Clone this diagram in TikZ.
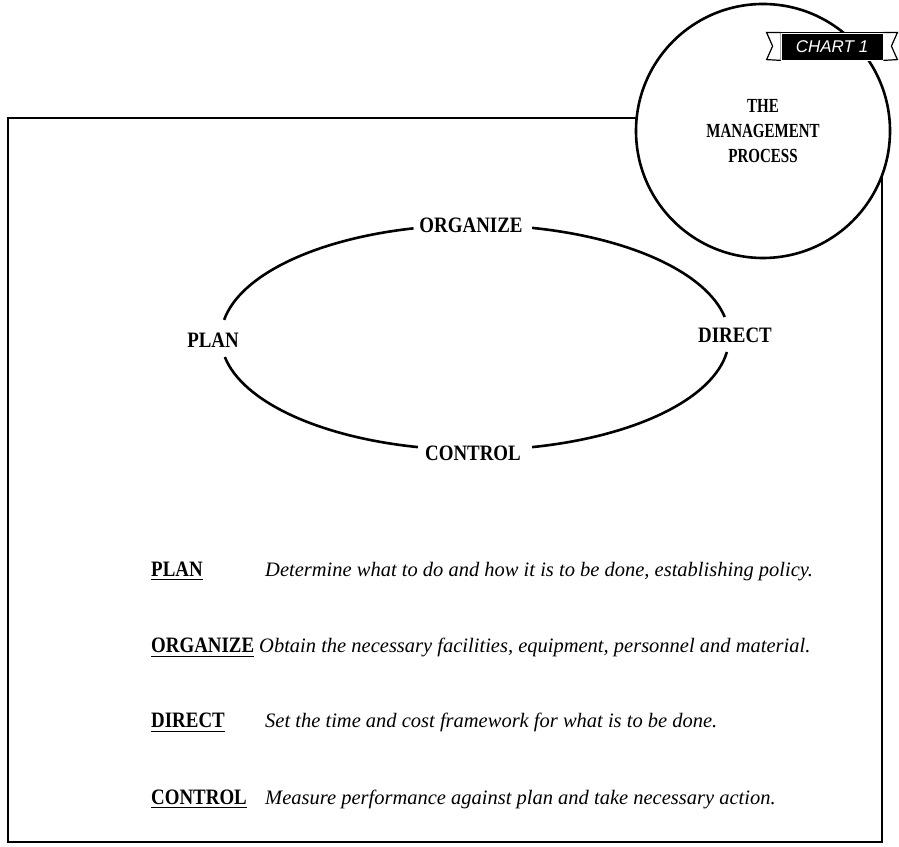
\documentclass[tikz,border=0pt]{standalone}
\usepackage{graphicx}
\usepackage{fontspec}
\setmainfont{Liberation Serif}
\newfontfamily\badgefont{Liberation Sans}
\newcommand\narrow[2][0.86]{\scalebox{#1}[1]{#2}}

\begin{document}
\begin{tikzpicture}[x=1pt, y=1pt,
    frame/.style={draw=black, line width=1.8pt},
    cycleline/.style={line width=2.6pt},
    stage/.style={font=\fontsize{22}{24}\selectfont\bfseries, inner sep=1pt},
    term/.style={font=\fontsize{22}{24}\selectfont\bfseries, inner sep=0pt, anchor=base west},
    gloss/.style={font=\fontsize{20.5}{24}\selectfont\itshape, inner sep=0pt, anchor=base west},
    ulrule/.style={line width=1.4pt}]

  \useasboundingbox (0,0) rectangle (899,846);

  % outer frame
  \draw[frame] (8,4) rectangle (882,728);

  % title circle
  \node[circle, draw, fill=white, line width=2.6pt, minimum size=254pt, align=center,
        font=\fontsize{20}{25}\selectfont\bfseries] (title) at (763,715)
        {\narrow[0.75]{THE}\\\narrow[0.75]{MANAGEMENT}\\\narrow[0.75]{PROCESS}};

  % chart badge
  \node[fill=black, draw=black, double=white, double distance=0.8pt, line width=0.8pt,
        text=white, minimum width=102pt, minimum height=27pt, inner sep=0pt,
        font=\badgefont\itshape\fontsize{17}{17}\selectfont] (badge) at (832,799.5) {CHART 1};
  \draw[line width=1.2pt, fill=white] (badge.north west) -- ++(-14,0) -- ++(6,-13.5)
        -- ++(-6,-13.5) -- (badge.south west);
  \draw[line width=1.2pt, fill=white] (badge.north east) -- ++(14,0) -- ++(-6,-13.5)
        -- ++(6,-13.5) -- (badge.south east);

  % the cycle
  \coordinate (cyc) at (475,508.5);
  \foreach \a/\b in {10.5/77, 104/171, 190/257, 283/352.6}
    \draw[cycleline] (cyc) ++(\a:254 and 112.5)
          arc[start angle=\a, end angle=\b, x radius=254, y radius=112.5];

  \node[stage] (organize) at (471,621) {\narrow{ORGANIZE}};
  \node[stage] (control) at (473,393) {\narrow{CONTROL}};
  \node[stage] (plan) at (213,506) {\narrow{PLAN}};
  \node[stage] (direct) at (735,511) {\narrow{DIRECT}};

  % definitions
  \node[term] (tplan) at (151,269.5) {\narrow{PLAN}};
  \node[gloss] (gplan) at (265,269.5)
        {Determine what to do and how it is to be done, establishing policy.};

  \node[term] (torganize) at (151,193) {\narrow{ORGANIZE}};
  \node[gloss] (gorganize) at (259,193)
        {Obtain the necessary facilities, equipment, personnel and material.};

  \node[term] (tdirect) at (151,118) {\narrow{DIRECT}};
  \node[gloss] (gdirect) at (265,118)
        {Set the time and cost framework for what is to be done.};

  \node[term] (tcontrol) at (151,42) {\narrow{CONTROL}};
  \node[gloss] (gcontrol) at (265,42)
        {Measure performance against plan and take necessary action.};

  \foreach \t in {tplan, torganize, tdirect, tcontrol}
    \draw[ulrule] ([yshift=-3pt]\t.south west) -- ([yshift=-3pt]\t.south east);
\end{tikzpicture}
\end{document}
